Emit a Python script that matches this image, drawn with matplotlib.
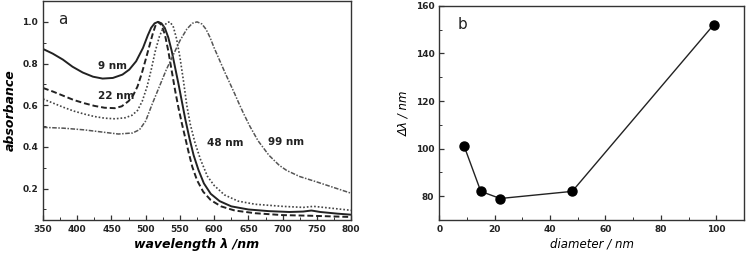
import matplotlib.pyplot as plt
from matplotlib.ticker import MultipleLocator

# panel a: normalised absorbance spectra
wl_9 = [350, 364, 379, 393, 408, 423, 437, 452, 466, 476, 486, 496, 503, 508, 513, 518,
        523, 528, 533, 538, 543, 548, 553, 558, 564, 570, 577, 585, 595, 608, 625, 650,
        680, 710, 730, 742, 755, 780, 800]
ab_9 = [0.87, 0.848, 0.819, 0.785, 0.757, 0.737, 0.728, 0.731, 0.747, 0.771, 0.811, 0.875,
        0.935, 0.972, 0.993, 1.0, 0.993, 0.97, 0.925, 0.86, 0.78, 0.70, 0.615, 0.53, 0.44,
        0.36, 0.29, 0.225, 0.175, 0.14, 0.115, 0.1, 0.092, 0.088, 0.09, 0.095, 0.088, 0.08,
        0.075]

wl_22 = [350, 365, 380, 395, 410, 425, 440, 455, 465, 475, 482, 488, 494, 500, 505, 510,
         514, 518, 523, 528, 533, 538, 543, 548, 553, 558, 563, 568, 575, 584, 595, 610,
         630, 660, 700, 740, 770, 800]
ab_22 = [0.683, 0.665, 0.645, 0.625, 0.61, 0.597, 0.588, 0.586, 0.595, 0.62, 0.65, 0.69,
         0.75, 0.82, 0.88, 0.94, 0.98, 1.0, 0.985, 0.94, 0.86, 0.765, 0.67, 0.585, 0.51,
         0.44, 0.37, 0.305, 0.24, 0.185, 0.145, 0.115, 0.095, 0.082, 0.073, 0.07, 0.067,
         0.064]

wl_48 = [350, 365, 380, 395, 410, 425, 440, 455, 470, 480, 488, 495, 502, 508, 514, 520,
         526, 531, 535, 540, 545, 550, 555, 560, 565, 572, 580, 590, 600, 615, 635, 660,
         700, 730, 745, 760, 800]
ab_48 = [0.63, 0.61, 0.59, 0.572, 0.558, 0.546, 0.538, 0.535, 0.54, 0.552, 0.575, 0.62,
         0.69, 0.77, 0.86, 0.93, 0.975, 0.997, 1.0, 0.98, 0.92, 0.83, 0.72, 0.6, 0.51, 0.42,
         0.34, 0.26, 0.215, 0.17, 0.14, 0.125, 0.115, 0.11, 0.115, 0.11, 0.096]

wl_99 = [350, 380, 410, 440, 460, 481, 491, 500, 510, 520, 530, 540, 550, 560, 568, 575,
         582, 588, 594, 600, 608, 616, 623, 630, 636, 643, 652, 664, 680, 695, 706, 725,
         750, 775, 800]
ab_99 = [0.494, 0.49, 0.482, 0.47, 0.462, 0.467, 0.483, 0.525, 0.61, 0.69, 0.77, 0.84,
         0.91, 0.965, 0.993, 1.0, 0.99, 0.965, 0.925, 0.875, 0.815, 0.755, 0.705, 0.655,
         0.61, 0.56, 0.5, 0.43, 0.36, 0.312, 0.287, 0.258, 0.232, 0.205, 0.178]

# panel b: plasmon band width vs particle diameter
diameter = [9, 15, 22, 48, 99]
delta_wl = [101, 82, 79, 82, 152]

plt.rcParams['font.family'] = 'DejaVu Sans'
plt.rcParams['xtick.direction'] = 'in'
plt.rcParams['ytick.direction'] = 'in'

fig = plt.figure(figsize=(7.47, 2.56), dpi=100)
ax1 = fig.add_axes([0.0576, 0.141, 0.4124, 0.855])
ax2 = fig.add_axes([0.588, 0.141, 0.408, 0.836])

ink = '#222222'
ax1.plot(wl_9, ab_9, color=ink, lw=1.4, ls='-')
ax1.plot(wl_22, ab_22, color=ink, lw=1.4, ls=(0, (3, 1.5)))
ax1.plot(wl_48, ab_48, color='#444444', lw=1.2, ls=(0, (1, 1.2)))
ax1.plot(wl_99, ab_99, color='#555555', lw=1.1, ls=(0, (3, 1, 1, 1)))

for txt, x, y in [('9 nm', 430, 0.79), ('22 nm', 430, 0.645),
                  ('48 nm', 589, 0.42), ('99 nm', 678, 0.424)]:
    ax1.text(x, y, txt, fontsize=7.5, fontweight='bold', color=ink, va='center')
ax1.text(372, 1.01, 'a', fontsize=11, color=ink, va='center')

ax1.set_xlim(350, 800)
ax1.set_ylim(0.05, 1.10)
ax1.xaxis.set_major_locator(MultipleLocator(50))
ax1.xaxis.set_minor_locator(MultipleLocator(25))
ax1.yaxis.set_major_locator(MultipleLocator(0.2))
ax1.yaxis.set_minor_locator(MultipleLocator(0.1))
ax1.set_yticks([0.2, 0.4, 0.6, 0.8, 1.0])
ax1.set_xlabel('wavelength λ /nm', fontsize=9, fontstyle='italic', fontweight='bold',
               labelpad=3)
ax1.set_ylabel('absorbance', fontsize=9, fontstyle='italic', fontweight='bold', labelpad=4)

ax2.plot(diameter, delta_wl, color=ink, lw=1.0, marker='o', ms=6.5,
         markerfacecolor='black', markeredgecolor='black')
ax2.text(6.5, 152.3, 'b', fontsize=11, color=ink, va='center')
ax2.set_xlim(0, 110)
ax2.set_ylim(70, 160)
ax2.xaxis.set_major_locator(MultipleLocator(20))
ax2.xaxis.set_minor_locator(MultipleLocator(10))
ax2.yaxis.set_major_locator(MultipleLocator(20))
ax2.yaxis.set_minor_locator(MultipleLocator(10))
ax2.set_yticks([80, 100, 120, 140, 160])
ax2.set_xlabel('diameter / nm', fontsize=8.5, fontstyle='italic', labelpad=3)
ax2.set_ylabel('Δλ / nm', fontsize=8.5, fontstyle='italic', labelpad=4)

for ax in (ax1, ax2):
    for s in ax.spines.values():
        s.set_color('#333333')
        s.set_linewidth(1.0)
    ax.tick_params(which='major', length=3.5, width=0.9, labelsize=6.5, colors='#333333',
                   labelcolor='#222222')
    ax.tick_params(which='minor', length=2, width=0.7, colors='#333333')
    for lab in ax.get_xticklabels() + ax.get_yticklabels():
        lab.set_fontweight('bold')

fig.savefig('out.png', dpi=100)
